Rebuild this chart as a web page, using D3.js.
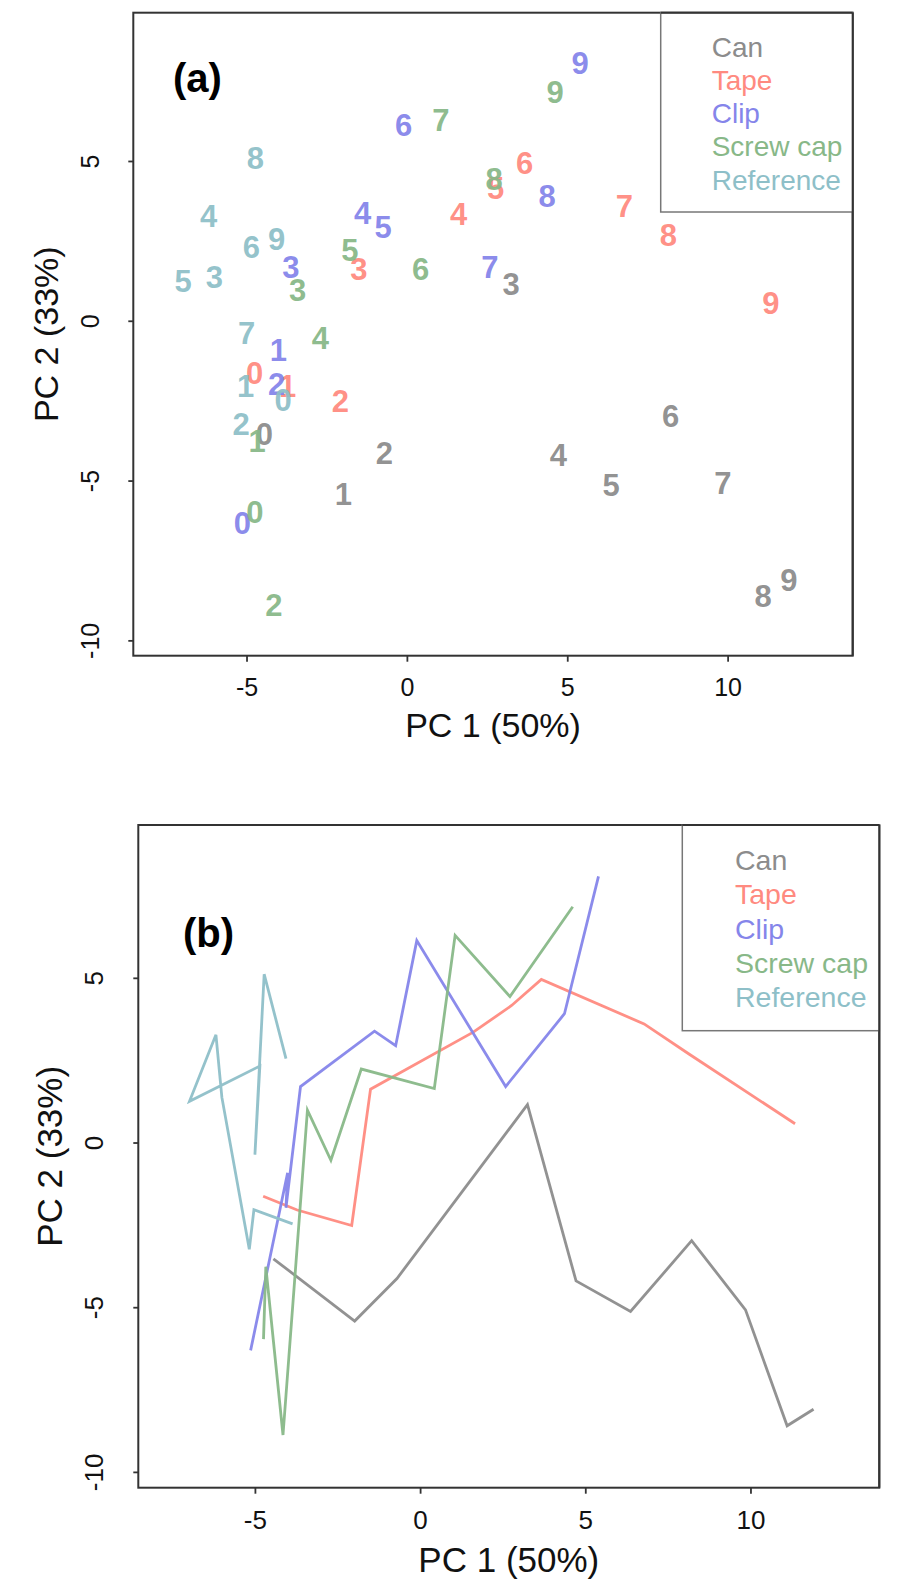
<!DOCTYPE html>
<html>
<head>
<meta charset="utf-8">
<script src="https://cdn.jsdelivr.net/npm/d3@7/dist/d3.min.js"></script>
<style>
  html, body { margin: 0; padding: 0; background: #fff; }
  svg { display: block; font-family: "Liberation Sans", Arial, sans-serif; }
</style>
</head>
<body>
<svg id="chart" width="898" height="1592"></svg>
<script>
// ---- data ----
const seriesNames = ["Can", "Tape", "Clip", "Screw cap", "Reference"];
const pointLabels = ["0","1","2","3","4","5","6","7","8","9"];
const canX   = [-4.44, -1.98, -0.70, 3.25, 4.72, 6.37, 8.22, 9.85, 11.11, 11.91];
const canY   = [-3.53, -5.42, -4.13, 1.15, -4.20, -5.13, -2.98, -5.08, -8.60, -8.10];
const tapeX  = [-4.75, -3.72, -2.07, -1.50, 1.61, 2.77, 3.67, 6.78, 8.15, 11.35];
const tapeY  = [-1.63, -2.05, -2.52, 1.62, 3.35, 4.16, 4.95, 3.60, 2.68, 0.57];
const clipX  = [-5.13, -4.01, -4.06, -3.62, -1.38, -0.74, -0.10, 2.59, 4.37, 5.40];
const clipY  = [-6.31, -0.92, -1.98, 1.70, 3.38, 2.94, 6.13, 1.70, 3.91, 8.08];
const screwX = [-4.74, -4.67, -4.15, -3.41, -2.70, -1.78, 0.43, 1.06, 2.72, 4.62];
const screwY = [-5.97, -3.77, -8.88, 0.98, -0.54, 2.23, 1.64, 6.29, 4.43, 7.16];
const refX   = [-3.86, -5.03, -5.17, -6.00, -6.18, -6.98, -4.85, -5.00, -4.72, -4.06];
const refY   = [-2.47, -2.04, -3.24, 1.37, 3.27, 1.25, 2.32, -0.37, 5.11, 2.55];
const xTicks = [-5, 0, 5, 10];
const yTicks = [-10, -5, 0, 5];
const xTitle = "PC 1 (50%)";
const yTitle = "PC 2 (33%)";
const panelTags = ["(a)", "(b)"];

const colors = ["#8c8c8c", "#ff8a80", "#8585ea", "#88b888", "#8ebfc8"];
const xsAll = [canX, tapeX, clipX, screwX, refX];
const ysAll = [canY, tapeY, clipY, screwY, refY];
const series = seriesNames.map((n, i) => ({
  name: n, color: colors[i],
  pts: xsAll[i].map((x, j) => ({x, y: ysAll[i][j], lab: pointLabels[j]}))
}));

const xDomain = [-8.53, 13.9];
const yDomain = [-10.48, 9.64];

const svg = d3.select("#chart");

const panels = [
  {tag: panelTags[0], mode: "text", L: 133.3, R: 852.7, T: 12.7, B: 655.7,
   tickFs: 25, titleFs: 34, xTickBase: 696, xTitleBase: 737.3, yTickBase: 99.3, yTitleBase: 58.3,
   tagX: 173, tagY: 92,
   leg: {x0: 660.7, y1: 212, tx: 711.7, base0: 56.7, step: 33.2, fs: 28}},
  {tag: panelTags[1], mode: "line", L: 138.3, R: 879.3, T: 825, B: 1487.7,
   tickFs: 26, titleFs: 35, xTickBase: 1529.3, xTitleBase: 1571.7, yTickBase: 103.3, yTitleBase: 61.7,
   tagX: 183, tagY: 946.7,
   leg: {x0: 682.3, y1: 1030.7, tx: 735, base0: 870, step: 34.3, fs: 28.5}}
];

panels.forEach(p => {
  const g = svg.append("g");
  const x = d3.scaleLinear().domain(xDomain).range([p.L, p.R]);
  const y = d3.scaleLinear().domain(yDomain).range([p.B, p.T]);

  // marks
  if (p.mode === "text") {
    series.forEach(s => {
      g.append("g").selectAll("text").data(s.pts).join("text")
        .attr("x", d => x(d.x)).attr("y", d => y(d.y))
        .attr("dy", "0.36em")
        .attr("text-anchor", "middle")
        .attr("font-size", 31).attr("font-weight", "bold")
        .attr("fill", s.color).attr("fill-opacity", 0.95)
        .text(d => d.lab);
    });
  } else {
    const line = d3.line().x(d => x(d.x)).y(d => y(d.y));
    series.forEach(s => {
      g.append("path").datum(s.pts).attr("d", line)
        .attr("fill", "none").attr("stroke", s.color)
        .attr("stroke-width", 2.8).attr("stroke-linejoin", "miter").attr("stroke-opacity", 0.95);
    });
  }

  // box
  g.append("rect").attr("x", p.L).attr("y", p.T)
    .attr("width", p.R - p.L).attr("height", p.B - p.T)
    .attr("fill", "none").attr("stroke", "#333").attr("stroke-width", 2);

  // axes
  const xa = g.append("g").attr("transform", `translate(0,${p.B})`)
    .call(d3.axisBottom(x).tickValues(xTicks).tickSize(6).tickFormat(d3.format("d")));
  xa.select(".domain").remove();
  xa.selectAll(".tick line").attr("stroke", "#333").attr("stroke-width", 1.8);
  xa.selectAll(".tick text").attr("y", p.xTickBase - p.B).attr("dy", null)
    .attr("font-size", p.tickFs).attr("font-family", "Liberation Sans, Arial, sans-serif")
    .attr("fill", "#111").text(d => d < 0 ? "-" + Math.abs(d) : d);

  const ya = g.append("g").attr("transform", `translate(${p.L},0)`)
    .call(d3.axisLeft(y).tickValues(yTicks).tickSize(5).tickFormat(d3.format("d")));
  ya.select(".domain").remove();
  ya.selectAll(".tick line").attr("stroke", "#333").attr("stroke-width", 1.8);
  ya.selectAll(".tick text").attr("x", null).attr("dy", null)
    .attr("transform", `translate(${p.yTickBase - p.L},0) rotate(-90)`)
    .attr("text-anchor", "middle")
    .attr("font-size", p.tickFs).attr("font-family", "Liberation Sans, Arial, sans-serif")
    .attr("fill", "#111").text(d => d < 0 ? "-" + Math.abs(d) : d);

  // titles
  g.append("text").attr("x", (p.L + p.R) / 2).attr("y", p.xTitleBase)
    .attr("text-anchor", "middle").attr("font-size", p.titleFs).attr("fill", "#111").text(xTitle);
  g.append("text").attr("transform", `translate(${p.yTitleBase},${(p.T + p.B) / 2}) rotate(-90)`)
    .attr("text-anchor", "middle").attr("font-size", p.titleFs).attr("fill", "#111").text(yTitle);

  // panel tag
  g.append("text").attr("x", p.tagX).attr("y", p.tagY)
    .attr("font-size", 40).attr("font-weight", "bold").attr("fill", "#000").text(p.tag);

  // legend
  const lg = p.leg;
  g.append("rect").attr("x", lg.x0).attr("y", p.T)
    .attr("width", p.R - lg.x0).attr("height", lg.y1 - p.T)
    .attr("fill", "#fff").attr("stroke", "#777").attr("stroke-width", 1.5);
  g.append("g").selectAll("text").data(series).join("text")
    .attr("x", lg.tx).attr("y", (d, i) => lg.base0 + i * lg.step)
    .attr("font-size", lg.fs).attr("fill", d => d.color).text(d => d.name);
  // redraw right border over legend
  g.append("line").attr("x1", p.R).attr("x2", p.R).attr("y1", p.T).attr("y2", p.B)
    .attr("stroke", "#333").attr("stroke-width", 2);
  g.append("line").attr("x1", lg.x0).attr("x2", p.R).attr("y1", p.T).attr("y2", p.T)
    .attr("stroke", "#333").attr("stroke-width", 2);
});
</script>
</body>
</html>
